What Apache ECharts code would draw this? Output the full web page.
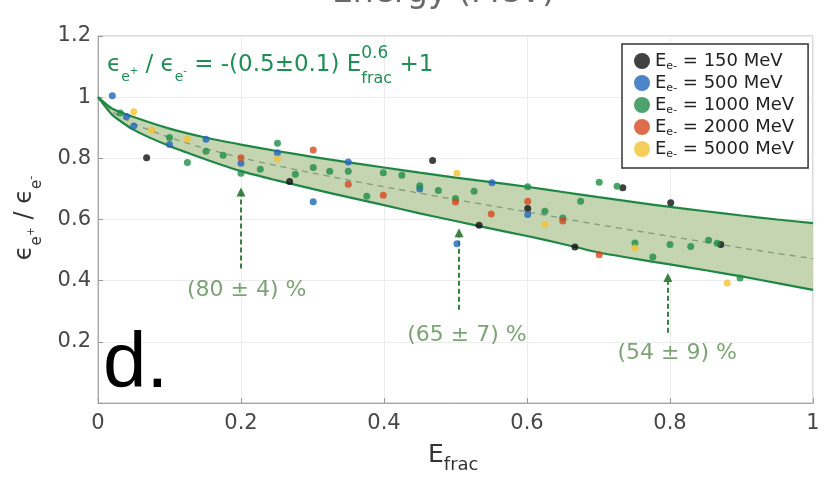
<!DOCTYPE html>
<html>
<head>
<meta charset="utf-8">
<script src="https://cdn.jsdelivr.net/npm/echarts@6/dist/echarts.min.js"></script>
<style>
  html, body { margin: 0; padding: 0; background: #fff; }
  #chart { width: 827px; height: 483px; }
</style>
</head>
<body>
<div id="chart"></div>
<script>
// Beam energies of the five measurement sets (MeV)
const beamEnergies = ['150', '500', '1000', '2000', '5000'];
const seriesColors = ['#111111', '#2266bb', '#1f8c48', '#d4481f', '#f2c232'];

// Measured ratio points [E_frac, eps(e+)/eps(e-)] for each beam energy
const pts150 = [[0.068,0.802],[0.268,0.724],[0.468,0.793],[0.533,0.581],[0.601,0.636],[0.667,0.51],[0.734,0.704],[0.801,0.655],[0.871,0.518]];
const pts500 = [[0.02,1.005],[0.04,0.937],[0.05,0.906],[0.1,0.845],[0.151,0.862],[0.2,0.784],[0.251,0.818],[0.301,0.658],[0.35,0.788],[0.45,0.7],[0.502,0.521],[0.551,0.72],[0.601,0.616]];
const pts1000 = [[0.031,0.948],[0.1,0.868],[0.125,0.786],[0.151,0.823],[0.175,0.81],[0.2,0.751],[0.227,0.764],[0.251,0.849],[0.276,0.748],[0.301,0.77],[0.324,0.758],[0.35,0.758],[0.376,0.676],[0.399,0.753],[0.425,0.745],[0.45,0.71],[0.476,0.695],[0.5,0.669],[0.526,0.692],[0.601,0.707],[0.625,0.627],[0.65,0.605],[0.675,0.66],[0.701,0.722],[0.726,0.709],[0.751,0.523],[0.776,0.477],[0.8,0.518],[0.829,0.512],[0.854,0.532],[0.866,0.522],[0.898,0.409]];
const pts2000 = [[0.2,0.802],[0.301,0.827],[0.35,0.715],[0.399,0.679],[0.5,0.657],[0.55,0.618],[0.601,0.66],[0.65,0.595],[0.701,0.485]];
const pts5000 = [[0.05,0.952],[0.075,0.893],[0.125,0.862],[0.251,0.799],[0.502,0.751],[0.625,0.584],[0.751,0.507],[0.88,0.392]];
const pointSets = [pts150, pts500, pts1000, pts2000, pts5000];

// Fit curve and its uncertainty band
const bandX     = [0, 0.02, 0.05, 0.1, 0.15, 0.2, 0.25, 0.3, 0.35, 0.4, 0.45, 0.5, 0.55, 0.6, 0.65, 0.7, 0.75, 0.8, 0.85, 0.9, 0.95, 1.0];
const bandUpper = [1, 0.962, 0.935, 0.897, 0.868, 0.845, 0.824, 0.805, 0.787, 0.770, 0.753, 0.737, 0.722, 0.707, 0.690, 0.673, 0.657, 0.641, 0.627, 0.613, 0.600, 0.588];
const fitMid    = [1, 0.953, 0.913, 0.868, 0.832, 0.802, 0.776, 0.752, 0.729, 0.707, 0.686, 0.665, 0.645, 0.625, 0.604, 0.583, 0.564, 0.545, 0.526, 0.507, 0.489, 0.472];
const bandLower = [1, 0.942, 0.893, 0.840, 0.797, 0.758, 0.728, 0.700, 0.673, 0.647, 0.620, 0.595, 0.570, 0.546, 0.520, 0.492, 0.472, 0.453, 0.434, 0.414, 0.392, 0.370];

// Efficiency annotations at selected energy fractions
const arrowX = [0.2, 0.505, 0.797];
const percentLabels = ['(80 ± 4) %', '(65 ± 7) %', '(54 ± 9) %'];

const xTicks = [0, 0.2, 0.4, 0.6, 0.8, 1];
const yTicks = [0, 0.2, 0.4, 0.6, 0.8, 1, 1.2];

const FONT = '"DejaVu Sans"';
const measureCtx = document.createElement('canvas').getContext('2d');
function textWidth(t, size, family) {
  measureCtx.font = size + 'px ' + (family || FONT);
  return measureCtx.measureText(t).width;
}
// Lays out a run of text pieces on a common baseline (sub/superscripts via dy)
function textRun(pieces, x0, baseline, color) {
  const out = [];
  let x = x0;
  const mk = (p, xx) => ({
    type: 'text', x: xx, y: baseline + (p.dy || 0) - 0.346 * p.size,
    silent: true, z: 100,
    style: {
      text: p.t, font: p.size + 'px ' + (p.family || FONT), fill: color,
      textAlign: 'left', textVerticalAlign: 'middle', align: 'left', verticalAlign: 'middle'
    }
  });
  pieces.forEach(p => {
    if (p.stack) {
      let w = 0;
      p.stack.forEach(s => { out.push(mk(s, x)); w = Math.max(w, textWidth(s.t, s.size, s.family)); });
      x += w;
    } else {
      out.push(mk(p, x));
      x += textWidth(p.t, p.size, p.family);
    }
  });
  return { children: out, width: x - x0 };
}

const ratioPieces = (big, sub, tiny) => [
  { t: 'ϵ', size: big }, { t: 'e', size: sub, dy: 9 }, { t: '+', size: tiny, dy: 2 },
  { t: ' / ', size: big },
  { t: 'ϵ', size: big }, { t: 'e', size: sub, dy: 9 }, { t: '-', size: tiny, dy: 2 }
];

const formula = textRun(ratioPieces(23, 14, 10).concat([
  { t: ' = -(0.5±0.1) E', size: 23 },
  { stack: [{ t: '0.6', size: 17, dy: -14 }, { t: 'frac', size: 16, dy: 11 }] },
  { t: ' +1', size: 23 }
]), 107, 73, '#1f8e56');

const yNameRun = textRun(ratioPieces(24, 15, 11), 0, 0, '#333333');
yNameRun.children.forEach(c => { c.x -= yNameRun.width / 2; });

const xNameRun = textRun([{ t: 'E', size: 25 }, { t: 'frac', size: 18, dy: 8 }], 428, 464, '#333333');
const titleRun = textRun([{ t: 'Energy (MeV)', size: 33 }], 332, 5, '#6a6a6a');
const panelRun = textRun([{ t: 'd.', size: 78, family: '"Liberation Sans"' }], 103, 392, '#000000');

const chart = echarts.init(document.getElementById('chart'), null, { renderer: 'canvas' });

const scatterSeries = pointSets.map((pts, i) => ({
  name: beamEnergies[i],
  type: 'scatter',
  data: pts,
  symbol: 'circle',
  symbolSize: 7,
  itemStyle: { color: seriesColors[i] },
  z: 10,
  silent: true
}));

const option = {
  animation: false,
  backgroundColor: '#ffffff',
  grid: { left: 98, right: 14, top: 36, bottom: 80, show: true, borderColor: '#b4b4b4', borderWidth: 1 },
  xAxis: {
    type: 'value', min: xTicks[0], max: xTicks[xTicks.length - 1], interval: 0.2,
    axisLine: { show: true, lineStyle: { color: '#a8a8a8' } },
    axisTick: { show: true, inside: true, length: 5, lineStyle: { color: '#999' } },
    axisLabel: { fontSize: 21, fontFamily: FONT, color: '#474747', margin: 10 },
    splitLine: { show: true, lineStyle: { color: '#ececec', width: 1 } }
  },
  yAxis: {
    type: 'value', min: yTicks[0], max: yTicks[yTicks.length - 1], interval: 0.2,
    axisLine: { show: true, lineStyle: { color: '#a8a8a8' } },
    axisTick: { show: true, inside: true, length: 5, lineStyle: { color: '#999' } },
    axisLabel: {
      fontSize: 21, fontFamily: FONT, color: '#474747', margin: 7,
      formatter: v => (v === 0 ? '' : String(Math.round(v * 10) / 10))
    },
    splitLine: { show: true, lineStyle: { color: '#ececec', width: 1 } }
  },
  legend: {
    orient: 'vertical', left: 622, top: 44,
    padding: [8, 14, 8, 12],
    itemWidth: 16, itemHeight: 16, itemGap: 2,
    backgroundColor: '#ffffff', borderColor: '#333333', borderWidth: 1.5, borderRadius: 0,
    data: beamEnergies,
    formatter: name => '{E|E}{s|e-}{r| = ' + name + ' MeV}',
    textStyle: {
      fontFamily: FONT, fontSize: 18, color: '#222',
      rich: {
        E: { fontFamily: FONT, fontSize: 18, lineHeight: 22, color: '#222' },
        s: { fontFamily: FONT, fontSize: 11, lineHeight: 11, verticalAlign: 'bottom', color: '#222' },
        r: { fontFamily: FONT, fontSize: 18, lineHeight: 22, color: '#222' }
      }
    }
  },
  series: [
    {
      name: 'band', type: 'custom', silent: true, z: 1,
      data: bandX.map((x, i) => [x, bandUpper[i], bandLower[i]]),
      renderItem: (params, api) => {
        if (params.dataIndex !== 0) return;
        const pts = [];
        bandX.forEach((x, i) => pts.push(api.coord([x, bandUpper[i]])));
        for (let i = bandX.length - 1; i >= 0; i--) pts.push(api.coord([bandX[i], bandLower[i]]));
        return { type: 'polygon', shape: { points: pts }, style: { fill: '#c6d5b1' } };
      }
    },
    {
      name: 'upper', type: 'line', silent: true, z: 3, symbol: 'none', smooth: 0.2,
      data: bandX.map((x, i) => [x, bandUpper[i]]),
      lineStyle: { color: '#1f8746', width: 2.2 }
    },
    {
      name: 'lower', type: 'line', silent: true, z: 3, symbol: 'none', smooth: 0.2,
      data: bandX.map((x, i) => [x, bandLower[i]]),
      lineStyle: { color: '#1f8746', width: 2.2 }
    },
    {
      name: 'fit', type: 'line', silent: true, z: 2, symbol: 'none', smooth: 0.2,
      data: bandX.map((x, i) => [x, fitMid[i]]),
      lineStyle: { color: '#7f9c7f', width: 1.3, type: [6, 5] },
      markLine: {
        silent: true, animation: false,
        symbol: ['none', 'triangle'], symbolSize: 9,
        label: { show: false },
        lineStyle: { color: '#3b8040', width: 2, type: [5, 3] },
        data: [
          [{ coord: [arrowX[0], 0.44] }, { coord: [arrowX[0], 0.69] }],
          [{ coord: [arrowX[1], 0.305] }, { coord: [arrowX[1], 0.557] }],
          [{ coord: [arrowX[2], 0.23] }, { coord: [arrowX[2], 0.41] }]
        ]
      }
    },
    {
      name: 'labels', type: 'scatter', silent: true, symbolSize: 0, z: 5,
      data: [[0.208, 0.37, percentLabels[0]], [0.516, 0.222, percentLabels[1]], [0.81, 0.164, percentLabels[2]]],
      label: {
        show: true, position: 'inside', formatter: p => p.data[2],
        fontFamily: FONT, fontSize: 22, color: '#5b8c52'
      }
    }
  ].concat(scatterSeries),
  graphic: [
    { type: 'group', silent: true, z: 100, children: formula.children },
    { type: 'group', silent: true, z: 100, x: 33, y: 218, rotation: Math.PI / 2, children: yNameRun.children },
    { type: 'group', silent: true, z: 100, children: xNameRun.children },
    { type: 'group', silent: true, z: 100, children: titleRun.children },
    { type: 'group', silent: true, z: 100, children: panelRun.children }
  ]
};

chart.setOption(option);
</script>
</body>
</html>
